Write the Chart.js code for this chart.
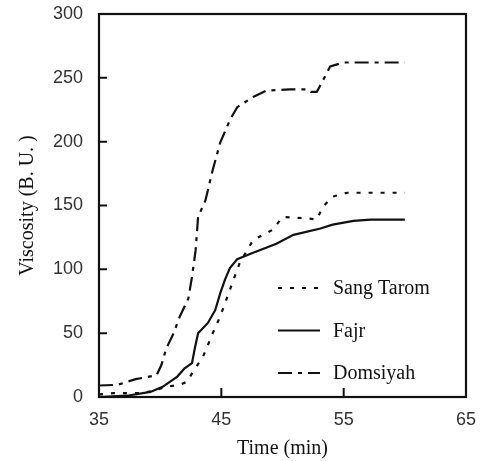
<!DOCTYPE html>
<html lang="en">

<head>
    <meta charset="UTF-8">
    <title>Viscosity</title>
    <script src="https://cdn.jsdelivr.net/npm/chart.js"></script>
    <style>
        html, body { margin: 0; padding: 0; background: #fff; }
        #wrap { width: 481px; height: 461px; }
    </style>
</head>

<body>
    <div id="wrap"><canvas id="myChart1"></canvas></div>
</body>
<script>
    // values
    const sangTaromTime = [35, 36.2, 38.4, 39.5, 40.5, 41.6, 42.2, 42.7, 43.5, 44.3, 44.9, 45.4, 46, 46.5, 47.6, 49.2, 50, 52, 52.8, 53.3, 54.1, 55.3, 60];
    const sangTaromVisc = [2, 3, 3, 5, 8, 9.5, 12, 20, 31.5, 50, 63, 76, 92, 105, 123, 131, 141, 140, 139, 149, 157, 160, 160];

    const fajrTime = [35, 37.3, 39.2, 40.2, 41.4, 42, 42.6, 42.85, 43.1, 43.9, 44.5, 44.9, 45.3, 45.7, 46.3, 47.6, 49.5, 50.9, 53.1, 54.1, 55.8, 57.2, 60];
    const fajrVisc = [0, 1, 4, 8, 16, 22.5, 26.5, 39, 50, 58, 68, 81, 92, 101, 108, 113, 120, 127, 132, 135, 138, 139, 139];

    const domsiyahTime = [35, 36.5, 38, 39.7, 40.1, 40.5, 41.1, 41.6, 42.3, 42.6, 42.9, 43.1, 43.7, 44.3, 44.9, 45.7, 46.3, 47.6, 48.7, 50.6, 52, 52.3, 52.8, 53.2, 53.9, 55, 60];
    const domsiyahVisc = [9, 9.5, 14, 17, 25, 38, 50, 63, 77, 94, 115, 141, 154, 178, 199, 217, 227, 235, 240, 241, 241, 239, 239, 246, 259, 262, 262];

    const seriesNames = ["Sang Tarom", "Fajr", "Domsiyah"];
    const xTicks = [35, 45, 55, 65];
    const yTicks = [0, 50, 100, 150, 200, 250, 300];

    function pairs(xs, ys) {
        return xs.map((x, i) => ({ x: x, y: ys[i] }));
    }

    const ink = "#111";

    function noPad(s) {
        s.paddingTop = 0;
        s.paddingBottom = 0;
        s.paddingLeft = 0;
        s.paddingRight = 0;
    }

    // box, inward ticks and the legend inside the plot
    const framePlugin = {
        id: "frame",
        afterDraw(chart) {
            const { ctx, chartArea: a, scales } = chart;
            ctx.save();
            ctx.strokeStyle = ink;
            ctx.lineWidth = 2.2;
            ctx.strokeRect(a.left, a.top, a.right - a.left, a.bottom - a.top);
            ctx.lineWidth = 2;
            ctx.beginPath();
            yTicks.slice(1, -1).forEach((v) => {
                const py = scales.y.getPixelForValue(v);
                ctx.moveTo(a.left, py);
                ctx.lineTo(a.left + 8, py);
            });
            xTicks.slice(1, -1).forEach((v) => {
                const px = scales.x.getPixelForValue(v);
                ctx.moveTo(px, a.bottom);
                ctx.lineTo(px, a.bottom - 9);
            });
            ctx.stroke();

            // legend
            const lx = 278, ly = 288, gap = 42.5;
            ctx.font = "20px 'Liberation Serif'";
            ctx.textBaseline = "middle";
            ctx.fillStyle = ink;
            chart.data.datasets.forEach((ds, i) => {
                const y = ly + i * gap;
                ctx.beginPath();
                ctx.setLineDash(ds.borderDash || []);
                ctx.lineWidth = 2.2;
                ctx.moveTo(lx, y);
                ctx.lineTo(lx + 42, y);
                ctx.stroke();
                ctx.setLineDash([]);
                ctx.fillText(ds.label, lx + 55, y + 1);
            });
            ctx.restore();
        }
    };

    const ctx = document.getElementById("myChart1");
    new Chart(ctx, {
        type: "line",
        data: {
            datasets: [
                {
                    label: seriesNames[0],
                    data: pairs(sangTaromTime, sangTaromVisc),
                    borderDash: [4, 8],
                },
                {
                    label: seriesNames[1],
                    data: pairs(fajrTime, fajrVisc),
                    borderDash: [],
                },
                {
                    label: seriesNames[2],
                    data: pairs(domsiyahTime, domsiyahVisc),
                    borderDash: [14, 6, 4, 6],
                },
            ].map((d) => Object.assign(d, {
                borderColor: ink,
                borderWidth: 2.2,
                pointRadius: 0,
                tension: 0,
                fill: false,
            })),
        },
        options: {
            responsive: true,
            maintainAspectRatio: false,
            animation: false,
            layout: { padding: { top: 14, right: 15, left: 0, bottom: 0 } },
            plugins: {
                legend: { display: false },
                tooltip: { enabled: false },
            },
            scales: {
                x: {
                    type: "linear",
                    min: 35,
                    max: 65,
                    afterBuildTicks: (s) => { s.ticks = xTicks.map((v) => ({ value: v })); },
                    afterFit: (s) => { s.height = 64; noPad(s); },
                    grid: { display: false, drawTicks: false },
                    border: { display: false },
                    ticks: {
                        padding: 12,
                        color: "#333",
                        font: { family: "'Liberation Sans'", size: 18 },
                    },
                    title: {
                        display: true,
                        text: "Time (min)",
                        color: ink,
                        padding: { top: 0, bottom: 0 },
                        font: { family: "'Liberation Serif'", size: 20 },
                    },
                },
                y: {
                    min: 0,
                    max: 300,
                    afterBuildTicks: (s) => { s.ticks = yTicks.map((v) => ({ value: v })); },
                    afterFit: (s) => { s.width = 99; noPad(s); },
                    grid: { display: false, drawTicks: false },
                    border: { display: false },
                    ticks: {
                        padding: 16,
                        color: "#333",
                        font: { family: "'Liberation Sans'", size: 18 },
                    },
                    title: {
                        display: true,
                        text: "Viscosity (B. U. )",
                        color: ink,
                        padding: { top: 16, bottom: 0 },
                        font: { family: "'Liberation Serif'", size: 20 },
                    },
                },
            },
        },
        plugins: [framePlugin],
    });
</script>

</html>
